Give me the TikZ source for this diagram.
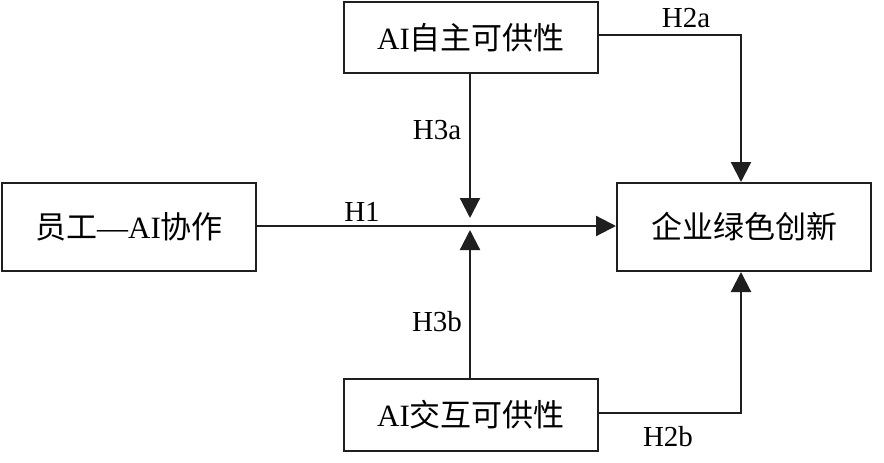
\documentclass[tikz,border=0pt]{standalone}
\usepackage{fontspec}
\setmainfont{Liberation Serif}
\newfontfamily\cjk{Noto Sans CJK SC}
\newcommand{\zh}[1]{{\cjk #1}}
\usetikzlibrary{arrows.meta}
\begin{document}
\begin{tikzpicture}[x=1pt,y=-1pt,
  box/.style={draw=black!88,line width=2pt,minimum width=254pt,minimum height=88pt,inner sep=0pt,font=\fontsize{31}{34}\selectfont,anchor=north west},
  conn/.style={draw=black!88,line width=2.2pt},
  arr/.style={conn,-{Triangle[length=20pt,width=20pt]}},
  lbl/.style={font=\fontsize{29}{32}\selectfont}]
\useasboundingbox (0,0) rectangle (884,463);
\node[box,minimum height=71pt] (auto) at (343,1) {AI\zh{自主可供性}};
\node[box] (collab) at (1,182) {\zh{员工}—AI\zh{协作}};
\node[box] (green) at (616,182) {\zh{企业绿色创新}};
\node[box,minimum height=72pt] (inter) at (343,378) {AI\zh{交互可供性}};
\coordinate (cross) at (470,226);
\coordinate (c2a) at (741,35);
\coordinate (c2b) at (741,413);
\draw[arr] (collab.east |- cross) -- (green.west |- cross);
\draw[arr] (auto.south -| cross) -- ([yshift=8pt]cross);
\draw[arr] (inter.north -| cross) -- ([yshift=-4pt]cross);
\draw[arr] (auto.east |- c2a) -- (c2a) -- (green.north -| c2a);
\draw[arr] (inter.east |- c2b) -- (c2b) -- (green.south -| c2b);
\node[lbl] (h2a) at (686,18) {H2a};
\node[lbl] (h3a) at (437,130) {H3a};
\node[lbl] (h1) at (362,212) {H1};
\node[lbl] (h3b) at (437,322) {H3b};
\node[lbl] (h2b) at (668,437) {H2b};
\end{tikzpicture}
\end{document}
